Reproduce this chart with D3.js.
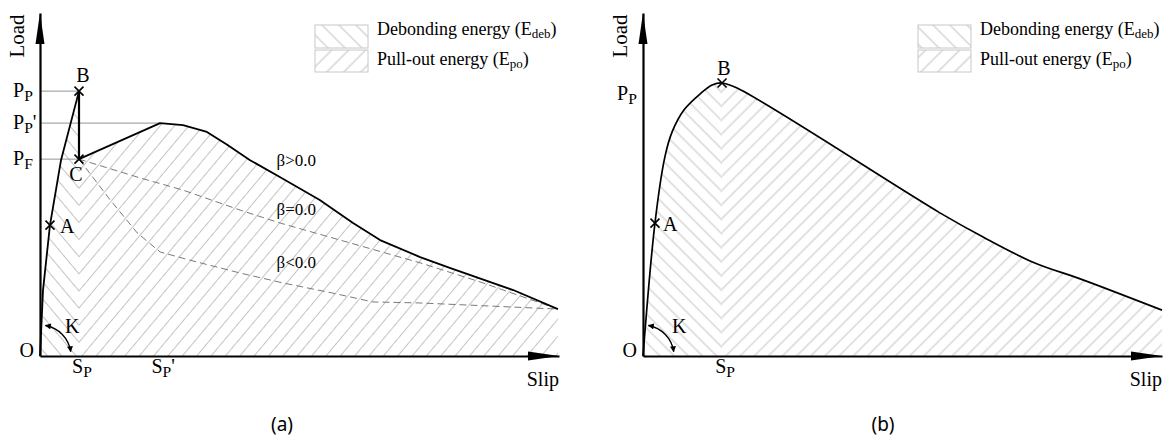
<!DOCTYPE html>
<html><head><meta charset="utf-8">
<script src="https://cdn.jsdelivr.net/npm/d3@7"></script>
<style>body{margin:0;background:#fff;} svg{display:block;}</style>
</head><body>
<svg id="chart" width="1170" height="439"></svg>
<script>
// ---------------- DATA (slip, load in relative units 0-100) ----------------
// Panel (a)
const riseA = [[0,0],[0.58,19.4],[1.92,38.5],[4.04,57.6],[7.5,77.9]];
const dropA = [[7.5,77.9],[7.5,57.9]];
const betaPos = [[7.5,57.9],[23.1,68.5],[27.5,67.9],[32.1,65.9],[36.0,62.1],[40.4,57.6],[46.2,52.6],[53.8,45.9],[60.2,39.1],[65.4,34.1],[73.1,29.1],[78.8,25.9],[91.0,19.4],[99.6,13.8]];
const betaZero = [[7.5,57.9],[19.2,52.4],[27.5,48.8],[38.5,42.9],[46.2,39.1],[57.7,34.1],[73.1,27.4],[84.6,21.8],[99.6,13.8]];
const betaNeg = [[7.5,57.9],[13.5,45.9],[18.7,36.2],[23.1,30.6],[28.8,28.2],[38.5,24.4],[46.7,21.5],[56.3,18.5],[64.0,15.9],[73.1,15.6],[86.5,14.7],[99.6,13.8]];
const pointsA = [{name:"A",x:1.92,y:38.5},{name:"B",x:7.5,y:77.9},{name:"C",x:7.5,y:57.9}];
const yTicksA = [{main:"P",sub:"P",prime:"",y:77.9,xEnd:7.5},{main:"P",sub:"P",prime:"'",y:68.5,xEnd:23.1},{main:"P",sub:"F",prime:"",y:57.9,xEnd:7.5}];
const xTicksA = [{main:"S",sub:"P",prime:"",x:7.5},{main:"S",sub:"P",prime:"'",x:23.1}];
const betaLabels = [{text:"β>0.0",x:45.5,y:55.9},{text:"β=0.0",x:45.5,y:41.5},{text:"β<0.0",x:45.5,y:25.9}];
const SpA = 7.5;
// Panel (b)
const curveB = [[0,0],[2.3,39.1],[4.2,58.5],[5.6,65.9],[7.9,72.4],[11.0,77.1],[13.3,79.7],[15.2,80.3],[18.1,78.8],[57.1,42.1],[65.4,35.0],[75.0,27.6],[84.6,22.4],[99.8,13.5]];
const pointsB = [{name:"A",x:2.3,y:39.1},{name:"B",x:15.2,y:80.3}];
const yTicksB = [{main:"P",sub:"P",prime:"",y:80.3}];
const xTicksB = [{main:"S",sub:"P",prime:"",x:15.2}];
const SpB = 15.2;
// Legend and titles
const legendItems = [{main:"Debonding energy (E",sub:"deb",tail:")",kind:"deb"},{main:"Pull-out energy (E",sub:"po",tail:")",kind:"po"}];
const axisTitles = {x:"Slip",y:"Load"};
const panelTitles = ["(a)","(b)"];

// ---------------- DRAWING ----------------
const serif = "'Liberation Serif','Times New Roman',serif";
const svg = d3.select('#chart');
const defs = svg.append('defs');

function makePattern(id, angle, size, color, sw){
  const p = defs.append('pattern').attr('id',id).attr('patternUnits','userSpaceOnUse')
    .attr('width',size).attr('height',size).attr('patternTransform',`rotate(${angle})`);
  p.append('line').attr('x1',size/2).attr('y1',-1).attr('x2',size/2).attr('y2',size+1)
    .attr('stroke',color).attr('stroke-width',sw);
}
makePattern('debA',-40,11,'#c4c4c4',1);
makePattern('poA',40,11,'#c4c4c4',1);
makePattern('debB',-45,10,'#c4c4c4',1);
makePattern('poB',45,10,'#c4c4c4',1);
makePattern('legDeb',-45,12,'#c0c0c0',1);
makePattern('legPo',45,12,'#c0c0c0',1);

defs.append('marker').attr('id','arrK').attr('viewBox','0 0 10 10').attr('refX',9).attr('refY',5)
  .attr('markerWidth',7).attr('markerHeight',6).attr('markerUnits','userSpaceOnUse')
  .attr('orient','auto-start-reverse')
  .append('path').attr('d','M0,0 L10,5 L0,10 Z').attr('fill','#000');

function subText(g, x, y, main, sub, prime, size, anchor, subScale){
  const t = g.append('text').attr('x',x).attr('y',y).attr('font-family',serif)
    .attr('font-size',size).attr('text-anchor',anchor||'start').attr('fill','#000');
  t.append('tspan').text(main);
  if(sub){ t.append('tspan').attr('font-size',size*(subScale||0.75)).attr('dy',size*0.18).text(sub); }
  if(prime){ t.append('tspan').attr('dy',-size*0.18).text(prime); }
  return t;
}

function drawPanel(cfg){
  const g = svg.append('g');
  const x = d3.scaleLinear().domain([0,100]).range([cfg.x0, cfg.x0+520]);
  const y = d3.scaleLinear().domain([0,100]).range([356,16]);
  const yTop = 13, xEnd = x(100)-1;

  // hatched areas
  cfg.areas.forEach(a=>{
    const area = d3.area().x(d=>x(d[0])).y0(y(0)).y1(d=>y(d[1])).curve(a.curve||d3.curveLinear);
    let path = g.append('path').attr('d',area(a.data)).attr('fill',`url(#${a.pattern})`);
    if(a.clip){
      const id = 'clip'+a.pattern;
      defs.append('clipPath').attr('id',id).append('rect')
        .attr('x',x(a.clip[0])).attr('y',0).attr('width',x(a.clip[1])-x(a.clip[0])).attr('height',400);
      path.attr('clip-path',`url(#${id})`);
    }
  });

  // guide lines
  (cfg.guides||[]).forEach(t=>{
    g.append('line').attr('x1',x(0)).attr('x2',x(t.xEnd)).attr('y1',y(t.y)).attr('y2',y(t.y))
      .attr('stroke','#888').attr('stroke-width',0.9);
  });

  // dashed curves
  (cfg.dashed||[]).forEach(d=>{
    g.append('path').attr('d',d3.line().x(p=>x(p[0])).y(p=>y(p[1]))(d))
      .attr('fill','none').attr('stroke','#7a7a7a').attr('stroke-width',1).attr('stroke-dasharray','7,4');
  });

  // solid curves
  cfg.solid.forEach(s=>{
    g.append('path').attr('d',d3.line().x(p=>x(p[0])).y(p=>y(p[1])).curve(s.curve||d3.curveLinear)(s.data))
      .attr('fill','none').attr('stroke','#000').attr('stroke-width',s.w||1.8).attr('stroke-linejoin','round');
  });

  // axes
  const xAxisScale = d3.scaleLinear().domain([0,100]).range([x(0), xEnd]);
  const yAxisScale = d3.scaleLinear().domain([0,100]).range([y(0), yTop]);
  g.append('g').attr('transform',`translate(0,${y(0)})`)
    .call(d3.axisBottom(xAxisScale).tickValues([]).tickSizeOuter(0))
    .select('.domain').attr('stroke','#000').attr('stroke-width',2.2);
  g.append('g').attr('transform',`translate(${x(0)},0)`)
    .call(d3.axisLeft(yAxisScale).tickValues([]).tickSizeOuter(0))
    .select('.domain').attr('stroke','#000').attr('stroke-width',2.2);
  g.append('path').attr('d',`M${x(0)},${yTop} L${x(0)-4.5},${yTop+31} L${x(0)+4.5},${yTop+31} Z`).attr('fill','#000');
  g.append('path').attr('d',`M${xEnd},${y(0)} L${xEnd-31},${y(0)-4.5} L${xEnd-31},${y(0)+4.5} Z`).attr('fill','#000');

  // markers X
  cfg.points.forEach(p=>{
    const cx=x(p.x), cy=y(p.y), r=4.5;
    g.append('path').attr('d',`M${cx-r},${cy-r}L${cx+r},${cy+r}M${cx-r},${cy+r}L${cx+r},${cy-r}`)
      .attr('stroke','#000').attr('stroke-width',1.6);
    const o = cfg.pointOffsets[p.name];
    g.append('text').attr('x',cx+o[0]).attr('y',cy+o[1]).attr('text-anchor',o[2])
      .attr('font-family',serif).attr('font-size',20).text(p.name);
  });

  // K arc
  const r = 31, a0 = -80*Math.PI/180, a1 = -8*Math.PI/180;
  const ox = x(0), oy = y(0);
  g.append('path').attr('d',`M${ox+r*Math.cos(a0)},${oy+r*Math.sin(a0)} A${r},${r} 0 0 1 ${ox+r*Math.cos(a1)},${oy+r*Math.sin(a1)}`)
    .attr('fill','none').attr('stroke','#000').attr('stroke-width',1.4)
    .attr('marker-start','url(#arrK)').attr('marker-end','url(#arrK)');
  g.append('text').attr('x',x(0)+cfg.kdx).attr('y',333).attr('font-family',serif).attr('font-size',20).text('K');
  g.append('text').attr('x',x(0)-6).attr('y',357).attr('text-anchor','end').attr('font-family',serif).attr('font-size',20).text('O');

  // tick labels
  cfg.yTicks.forEach(t=>{ subText(g, x(0)+cfg.yTickDx, y(t.y)+cfg.yTickDy, t.main, t.sub, t.prime, 20, 'start', 0.78); });
  cfg.xTicks.forEach(t=>{ subText(g, x(t.x)+3, 373, t.main, t.sub, t.prime, 20, 'middle', 0.78); });

  // axis titles
  g.append('text').attr('x',xEnd).attr('y',386).attr('text-anchor','end').attr('font-family',serif).attr('font-size',20).text(axisTitles.x);
  g.append('text').attr('transform',`translate(${x(0)-21},36) rotate(-90)`).attr('text-anchor','middle')
    .attr('dominant-baseline','middle').attr('font-family',serif).attr('font-size',21).text(axisTitles.y);

  // legend
  legendItems.forEach((it,i)=>{
    const bx = x(0)+275, by = i===0?25:50, bh = i===0?23:22;
    g.append('rect').attr('x',bx).attr('y',by).attr('width',53).attr('height',bh)
      .attr('fill',`url(#${it.kind==='deb'?'legDeb':'legPo'})`).attr('stroke','#c8c8c8').attr('stroke-width',1);
    const t = g.append('text').attr('x',bx+62).attr('y',i===0?35:65).attr('font-family',serif).attr('font-size',18);
    t.append('tspan').text(it.main);
    t.append('tspan').attr('font-size',13).attr('dy',3).text(it.sub);
    t.append('tspan').attr('dy',-3).text(it.tail);
  });

  // panel title
  g.append('text').attr('x',cfg.titleX).attr('y',431).attr('text-anchor','middle')
    .attr('font-family',"'Noto Sans','Open Sans',sans-serif").attr('font-size',19).text(cfg.title);
  return {g,x,y};
}

// Panel (a)
const pa = drawPanel({
  x0:40, title:panelTitles[0], titleX:282,
  areas:[{data:riseA, pattern:'debA'},{data:betaPos, pattern:'poA'}],
  guides: yTicksA,
  dashed:[betaZero, betaNeg],
  solid:[{data:riseA},{data:dropA,w:2.2},{data:betaPos}],
  points: pointsA,
  pointOffsets:{A:[10,8,'start'],B:[4,-9,'middle'],C:[-3,22,'middle']},
  kdx:25, yTicks:yTicksA, yTickDx:-27, yTickDy:6, xTicks:xTicksA
});
betaLabels.forEach(b=>{
  pa.g.append('text').attr('x',pa.x(b.x)).attr('y',pa.y(b.y)).attr('font-family',serif).attr('font-size',17).text(b.text);
});

// Panel (b)
const smoothB = d3.curveCatmullRom.alpha(0.5);
drawPanel({
  x0:643, title:panelTitles[1], titleX:883,
  areas:[{data:curveB, pattern:'debB', curve:smoothB, clip:[0,SpB]},{data:curveB, pattern:'poB', curve:smoothB, clip:[SpB,100]}],
  guides:[],
  dashed:[],
  solid:[{data:curveB, curve:smoothB, w:1.7}],
  points: pointsB,
  pointOffsets:{A:[8,8,'start'],B:[2,-8,'middle']},
  kdx:29, yTicks:yTicksB, yTickDx:-26, yTickDy:17, xTicks:xTicksB
});
</script>
</body></html>
